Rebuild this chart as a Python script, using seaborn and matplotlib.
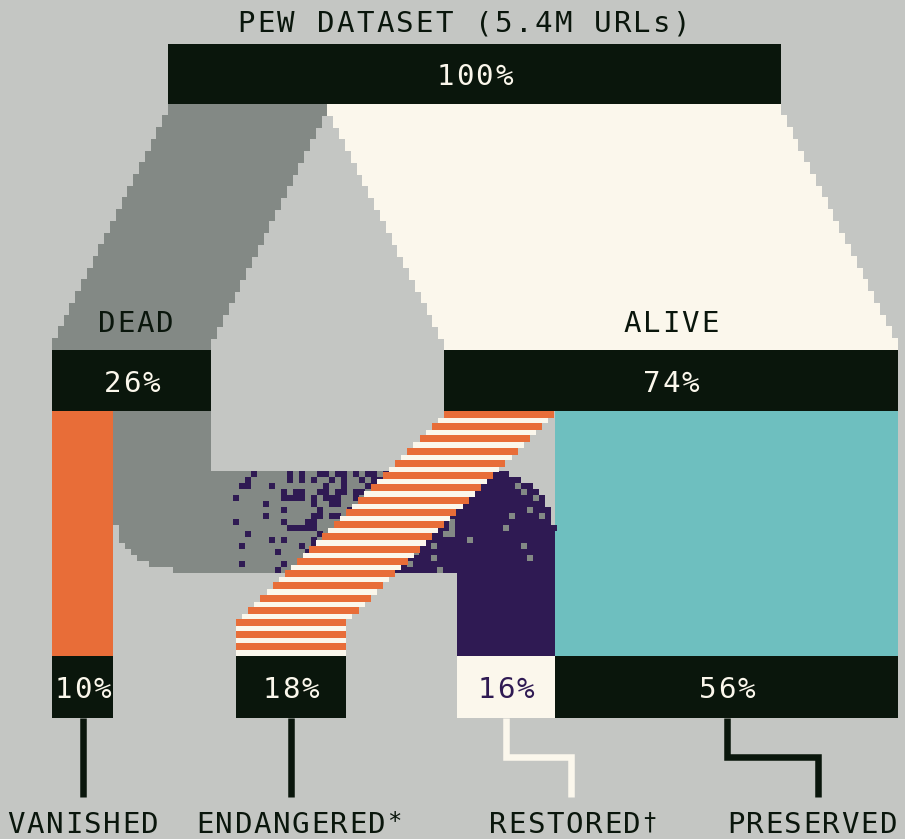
import numpy as np
import matplotlib
matplotlib.use("Agg")
import matplotlib.pyplot as plt
import seaborn as sns

# Shares of the Pew dataset (percent of 5.4M URLs)
title = "PEW DATASET (5.4M URLs)"
total_value = 100
status_names = ["DEAD", "ALIVE"]
status_values = [26, 74]
outcome_names = ["VANISHED", "ENDANGERED", "RESTORED", "PRESERVED"]
outcome_marks = ["", "*", "\u2020", ""]
outcome_values = [10, 18, 16, 56]

# colours
bg = "#c4c6c3"
dark = "#0a160c"
stone = "#838985"
cream = "#fbf7ec"
orange = "#e86d38"
teal = "#6ebfbf"
purple = "#2f1a53"

sns.set_theme(style="white", rc={"figure.facecolor": bg, "axes.facecolor": bg})
plt.rcParams["font.family"] = ["DejaVu Sans Mono", "DejaVu Sans"]

fig = plt.figure(figsize=(9.05, 8.39), dpi=100)
ax = fig.add_axes([0, 0, 1, 1])
ax.set_xlim(0, 905)
ax.set_ylim(839, 0)
ax.axis("off")

# layout (pixels)
px = 6.13                      # pixels per percent
top_y = (44, 104)
mid_y = (350, 411)
bot_y = (656, 718)
top_left = 168
status_left = [52, 444]
out_left = [52, 236, 457, None]

top_w = total_value * px
status_w = [v * px for v in status_values]
out_w = [v * px for v in outcome_values]
out_left[3] = out_left[2] + out_w[2]


def box(left, width, y0, y1, color, z=3):
    ax.barh([(y0 + y1) / 2], [width], height=y1 - y0, left=[left],
            color=color, linewidth=0, antialiased=False, zorder=z)


def spaced(xc, yb, s, color, size=21, pitch=19.5, z=10):
    n = len(s)
    for i, ch in enumerate(s):
        ax.text(xc + (i - (n - 1) / 2) * pitch, yb, ch, ha="center",
                va="baseline", color=color, fontsize=size, zorder=z)


# ---- top split: dead / alive staircase bands
n = 20
h = (mid_y[0] - top_y[1]) / (n + 1)
k = np.arange(n + 1)
ys = top_y[1] + h * k + h / 2
dead_lefts = top_left + (status_left[0] - top_left) * k / n
alive_src = top_left + status_w[0]
alive_lefts = alive_src + (status_left[1] - alive_src) * k / n
ax.barh(ys, status_w[0], height=h + 0.5, left=dead_lefts, color=stone,
        linewidth=0, antialiased=False, zorder=1)
ax.barh(ys, status_w[1], height=h + 0.5, left=alive_lefts, color=cream,
        linewidth=0, antialiased=False, zorder=1)

# ---- vanished and preserved flows (straight down)
box(out_left[0], out_w[0], mid_y[1], bot_y[0], orange, z=1)
box(out_left[3], out_w[3], mid_y[1], bot_y[0], teal, z=1)

# ---- dead -> restored flow, stone fading into purple
cell = 6
src_l = status_left[0] + out_w[0]
fw = out_w[2]
band_top = 472
band_bot = band_top + fw
col_l = out_left[2]
col_r = col_l + fw
R = 62
rng = np.random.default_rng(5)


def snap(x):
    return src_l + np.round((x - src_l) / cell) * cell


row_y, row_l, row_w, row_c = [], [], [], []
dot_y, dot_l, dot_w = [], [], []
for r in np.arange(mid_y[1], bot_y[0], cell):
    rh = min(cell, bot_y[0] - r)
    yc = r + rh / 2
    if yc < band_top:
        l, rr = src_l, src_l + fw
        color = stone
    elif yc < band_bot:
        if yc < band_bot - R:
            l = src_l
        else:
            dy = yc - (band_bot - R)
            l = snap(src_l + R - np.sqrt(max(R * R - dy * dy, 0)))
        if yc < band_top + R:
            dy = (band_top + R) - yc
            rr = snap(col_r - R + np.sqrt(max(R * R - dy * dy, 0)))
        else:
            rr = col_r
        color = stone
    else:
        l, rr = col_l, col_r
        color = purple
    row_y.append(yc)
    row_l.append(l)
    row_w.append(rr - l)
    row_c.append(color)
    if band_top <= yc < band_bot:
        x0 = l
        while x0 < rr - 1:
            xc = x0 + cell / 2
            p = min(np.clip((xc - 220) / 260, 0, 1) ** 1.1, 0.92)
            if yc > band_bot - 8 and xc > col_l:
                p = 1.0
            if rng.random() < p:
                dot_y.append(yc)
                dot_l.append(x0)
                dot_w.append(min(cell, rr - x0))
            x0 += cell

for yc, l, w, c in zip(row_y, row_l, row_w, row_c):
    ax.barh([yc], [w], height=cell + 0.3, left=[l], color=c, linewidth=0,
            antialiased=False, zorder=1)
ax.barh(dot_y, dot_w, height=cell, left=dot_l, color=purple, linewidth=0,
        antialiased=False, zorder=2)

# ---- alive -> endangered striped flow
e0 = status_left[1]
e1 = out_left[1]
ew = out_w[1]
nst = int(round((e0 - e1) / 12))
st = (e0 - e1) / nst
o_y, o_l, c_y, c_l = [], [], [], []
y0 = mid_y[1]
i = 0
while y0 < bot_y[0]:
    shift = min(i, nst) * st
    o_y.append(y0 + 3.5)
    o_l.append(e0 - shift)
    c_y.append(y0 + 7 + (st - 7) / 2)
    c_l.append(e0 - shift - (st / 2 if i < nst else 0))
    y0 += st
    i += 1
ax.barh(c_y, ew, height=st - 7, left=c_l, color=cream, linewidth=0,
        antialiased=False, zorder=4)
ax.barh(o_y, ew, height=7, left=o_l, color=orange, linewidth=0,
        antialiased=False, zorder=4)

# ---- node boxes
box(top_left, top_w, *top_y, dark, z=6)
for left, w in zip(status_left, status_w):
    box(left, w, *mid_y, dark, z=6)
for j, (left, w) in enumerate(zip(out_left, out_w)):
    box(left, w, *bot_y, cream if j == 2 else dark, z=6)

# ---- labels
spaced(464, 32, title, dark, pitch=19.8)
spaced(top_left + top_w / 2, (top_y[0] + top_y[1]) / 2 + 11,
       f"{total_value}%", cream)
for name, v, left, w in zip(status_names, status_values, status_left, status_w):
    xc = left + w / 2
    spaced(xc + (4 if name == "DEAD" else 0), 332, name, dark)
    spaced(xc, (mid_y[0] + mid_y[1]) / 2 + 11, f"{v}%", cream)
for j, (v, left, w) in enumerate(zip(outcome_values, out_left, out_w)):
    spaced(left + w / 2, (bot_y[0] + bot_y[1]) / 2 + 11, f"{v}%",
           purple if j == 2 else cream)

# ---- connectors and outcome names
label_x = [83, 291, 571, 818]
text_x = [83, 291, 565, 812]
elbow_y = 757
for j, name in enumerate(outcome_names):
    xn = out_left[j] + out_w[j] / 2
    xs = [xn, xn, label_x[j], label_x[j]]
    yl = [bot_y[1], elbow_y, elbow_y, 797]
    sns.lineplot(x=xs, y=yl, sort=False, estimator=None, ax=ax,
                 color=cream if j == 2 else dark, linewidth=4.7,
                 solid_joinstyle="miter", solid_capstyle="butt", zorder=5)
    spaced(text_x[j], 833, name, dark, pitch=19.1)
    if outcome_marks[j]:
        half = (len(name) - 1) / 2 * 19.1
        ax.text(text_x[j] + half + 17, 810, outcome_marks[j], ha="center",
                va="top", color=dark, fontsize=17, zorder=10)

ax.set_xlim(0, 905)
ax.set_ylim(839, 0)
fig.savefig("out.png", dpi=100, facecolor=bg)
